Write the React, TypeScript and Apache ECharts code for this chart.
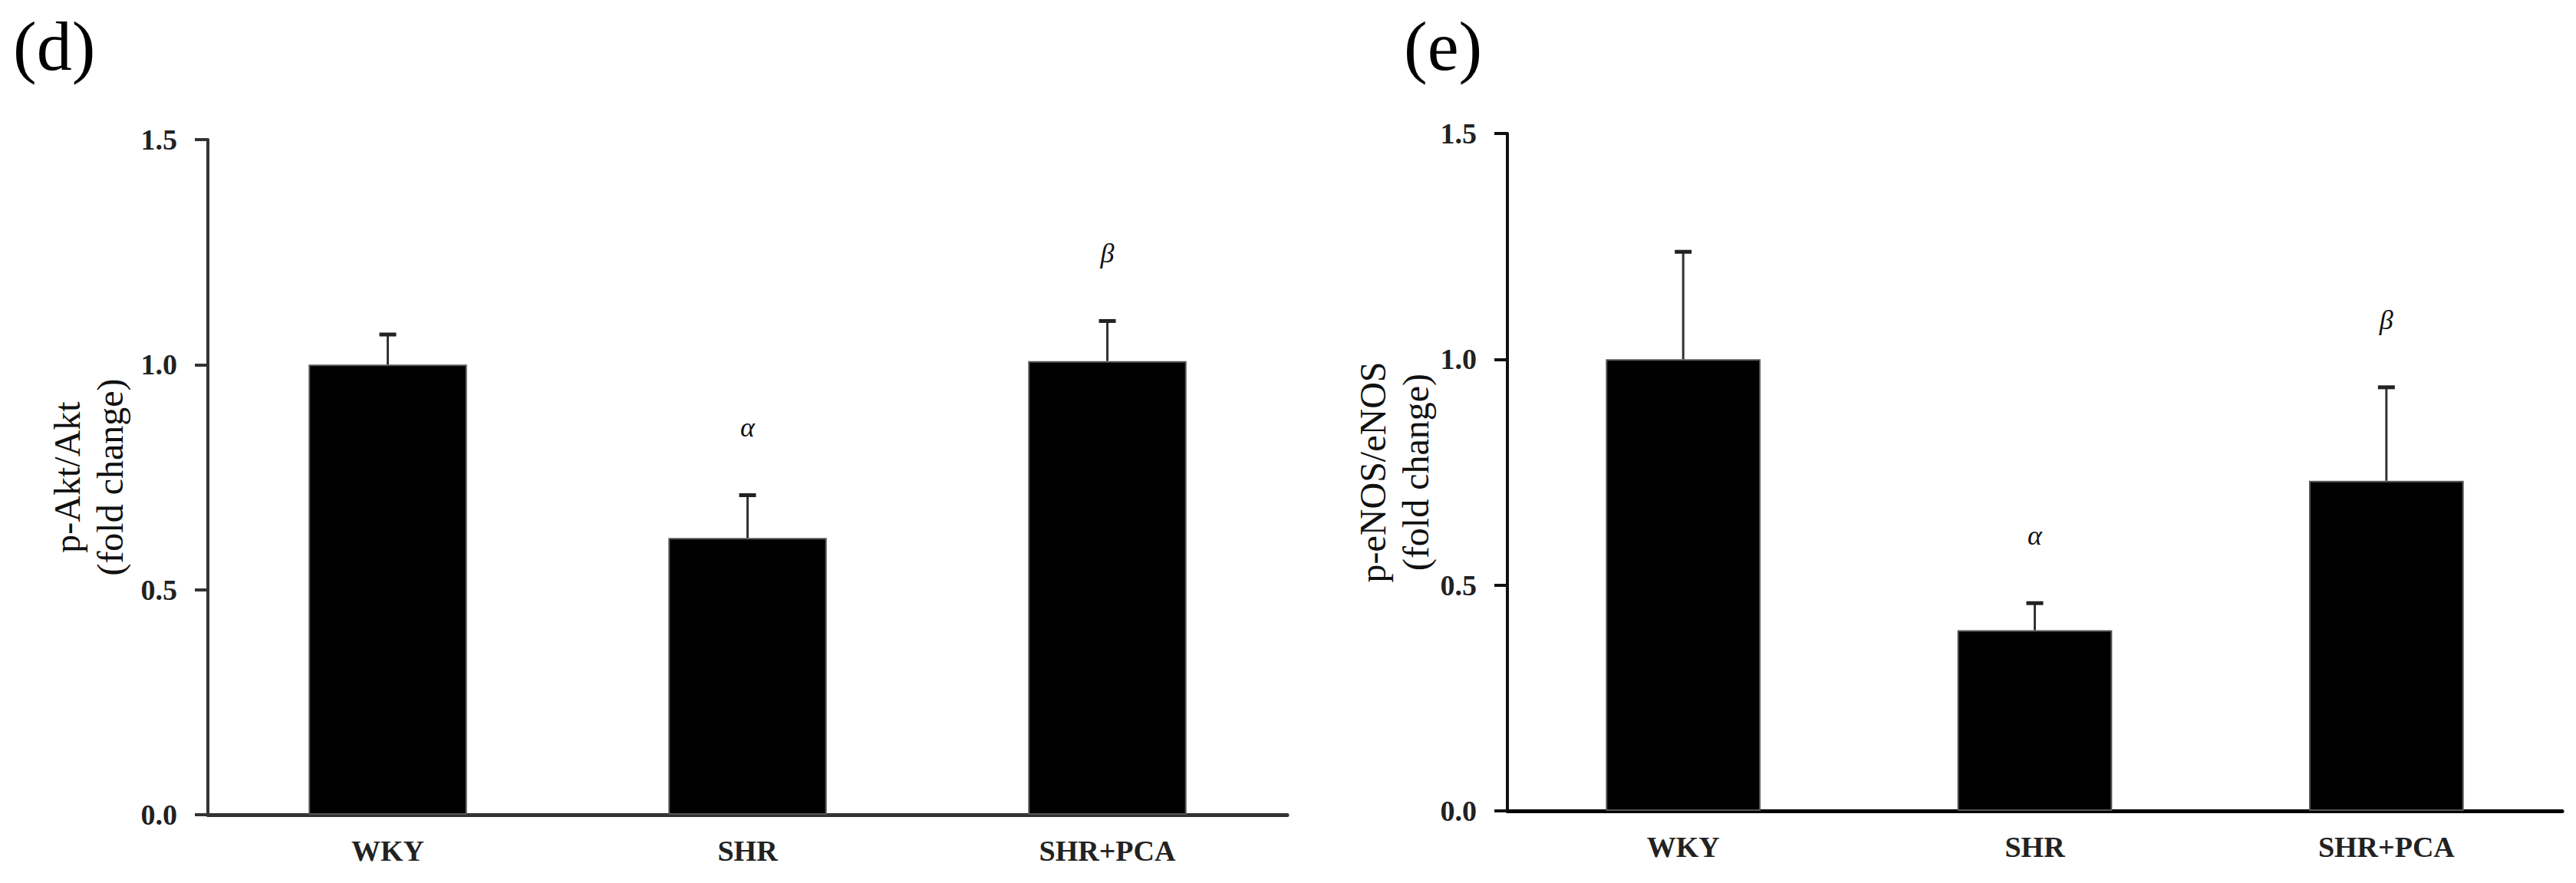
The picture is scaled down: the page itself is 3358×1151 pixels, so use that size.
import React, { useEffect, useRef } from "react";
import * as echarts from "echarts";

// Groups shown on both panels
const groups = ["WKY", "SHR", "SHR+PCA"];

// Panel (d): p-Akt/Akt, fold change (mean and SEM)
const aktMean = [1.0, 0.615, 1.008];
const aktSem = [0.067, 0.095, 0.089];
const aktSig = ["", "α", "β"];

// Panel (e): p-eNOS/eNOS, fold change (mean and SEM)
const enosMean = [1.0, 0.4, 0.731];
const enosSem = [0.238, 0.06, 0.207];
const enosSig = ["", "α", "β"];

const yTicks = [0, 0.5, 1.0, 1.5];

const SERIF = "'Liberation Serif', 'DejaVu Serif', serif";

function errorData(mean: number[], sem: number[]) {
  return mean.map((m, i) => [i, m, m + sem[i]]);
}

// Upper error whisker with cap, plus the significance mark above it
function makeErrorRenderer(sig: string[]) {
  return (params: any, api: any) => {
    const idx = api.value(0);
    const base = api.coord([idx, api.value(1)]);
    const top = api.coord([idx, api.value(2)]);
    const mark = sig[params.dataIndex];
    const half = 11;
    const children: any[] = [
      {
        type: "line",
        shape: { x1: base[0], y1: base[1], x2: top[0], y2: top[1] },
        style: { stroke: "#333", lineWidth: 3 },
      },
      {
        type: "line",
        shape: { x1: top[0] - half, y1: top[1], x2: top[0] + half, y2: top[1] },
        style: { stroke: "#222", lineWidth: 5 },
      },
    ];
    if (mark) {
      children.push({
        type: "text",
        x: top[0],
        y: top[1] - 88,
        style: {
          text: mark,
          fill: "#111",
          fontSize: 36,
          fontStyle: "italic",
          fontFamily: SERIF,
          align: "center",
          verticalAlign: "middle",
        },
      });
    }
    return { type: "group", children };
  };
}

function makeYAxis(gridIndex: number, name: string, nameGap: number, lineColor: string) {
  return {
    type: "value",
    gridIndex,
    min: 0,
    max: 1.5,
    interval: 0.5,
    name,
    nameLocation: "middle",
    nameGap,
    nameTextStyle: {
      fontSize: 48,
      lineHeight: 56,
      fontFamily: SERIF,
      color: "#111",
      align: "center",
    },
    axisLine: { show: true, lineStyle: { color: lineColor, width: 4 } },
    axisTick: { show: true, inside: false, length: 17, lineStyle: { color: lineColor, width: 4 } },
    splitLine: { show: false },
    axisLabel: {
      margin: 40,
      fontSize: 38,
      fontWeight: "bold",
      fontFamily: SERIF,
      color: "#222",
      formatter: (v: number) => (yTicks.includes(v) ? v.toFixed(1) : ""),
    },
  };
}

function makeXAxis(gridIndex: number, lineColor: string) {
  return {
    type: "category",
    gridIndex,
    data: groups,
    boundaryGap: true,
    axisLine: { show: true, lineStyle: { color: lineColor, width: 5 } },
    axisTick: { show: false },
    axisLabel: {
      margin: 28,
      fontSize: 38,
      fontWeight: "bold",
      fontFamily: SERIF,
      color: "#222",
    },
  };
}

export default function App() {
  const ref = useRef<HTMLDivElement>(null);

  useEffect(() => {
    if (!ref.current) return;
    const chart = echarts.init(ref.current, undefined, { renderer: "svg" });
    chart.setOption({
      animation: false,
      backgroundColor: "#fff",
      grid: [
        { left: 271, right: 3358 - 1678, top: 182, bottom: 1151 - 1062 },
        { left: 1965, right: 3358 - 3340, top: 174, bottom: 1151 - 1057 },
      ],
      xAxis: [makeXAxis(0, "#333"), makeXAxis(1, "#000")],
      yAxis: [
        makeYAxis(0, "p-Akt/Akt\n(fold change)", 100, "#333"),
        makeYAxis(1, "p-eNOS/eNOS\n(fold change)", 90, "#111"),
      ],
      graphic: [
        {
          type: "text",
          left: 17,
          top: 14,
          style: { text: "(d)", fontSize: 92, fontFamily: SERIF, fill: "#000" },
        },
        {
          type: "text",
          left: 1830,
          top: 14,
          style: { text: "(e)", fontSize: 92, fontFamily: SERIF, fill: "#000" },
        },
      ],
      series: [
        {
          type: "bar",
          xAxisIndex: 0,
          yAxisIndex: 0,
          data: aktMean,
          barWidth: "44%",
          itemStyle: { color: "#000", borderColor: "#555", borderWidth: 2 },
          z: 2,
        },
        {
          type: "custom",
          xAxisIndex: 0,
          yAxisIndex: 0,
          data: errorData(aktMean, aktSem),
          renderItem: makeErrorRenderer(aktSig),
          z: 3,
        },
        {
          type: "bar",
          xAxisIndex: 1,
          yAxisIndex: 1,
          data: enosMean,
          barWidth: "44%",
          itemStyle: { color: "#000", borderColor: "#555", borderWidth: 2 },
          z: 2,
        },
        {
          type: "custom",
          xAxisIndex: 1,
          yAxisIndex: 1,
          data: errorData(enosMean, enosSem),
          renderItem: makeErrorRenderer(enosSig),
          z: 3,
        },
      ],
    });
    return () => chart.dispose();
  }, []);

  return (
    <div
      ref={ref}
      style={{ position: "fixed", left: 0, top: 0, width: 3358, height: 1151, background: "#fff" }}
    />
  );
}
